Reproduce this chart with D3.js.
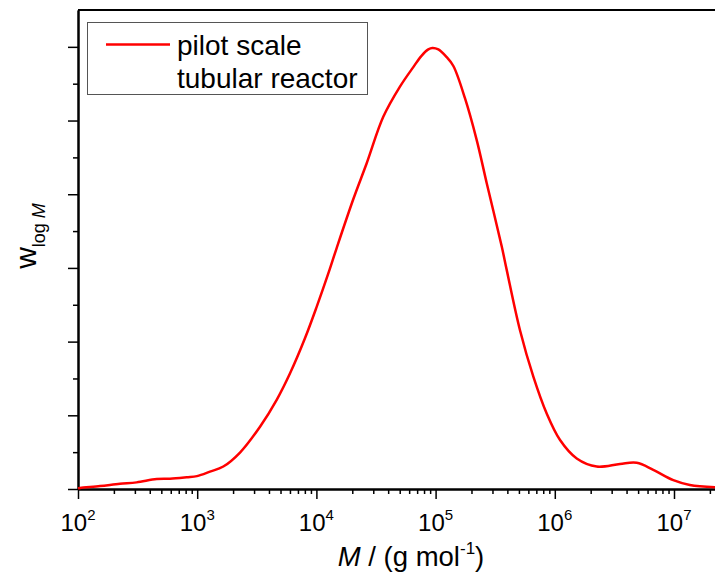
<!DOCTYPE html>
<html>
<head>
<meta charset="utf-8">
<script src="https://cdn.jsdelivr.net/npm/d3@7"></script>
<style>
    body { margin: 0; background: #fff; }
    svg { display: block; font-family: "Liberation Sans", Arial, sans-serif; }
</style>
</head>
<body>
<svg id="chart" width="715" height="573"></svg>
<script>
// molar mass distribution
var logMass = [2.000, 2.017, 2.185, 2.352, 2.492, 2.660, 2.772, 2.912, 2.998, 3.107,
    3.219, 3.359, 3.527, 3.667, 3.779, 3.904, 4.003, 4.100, 4.170, 4.310,
    4.422, 4.561, 4.701, 4.813, 4.880, 4.939, 4.973, 5.023, 5.093, 5.149,
    5.247, 5.345, 5.429, 5.555, 5.597, 5.708, 5.820, 5.932, 6.044, 6.184,
    6.352, 6.547, 6.687, 6.826, 6.994, 7.133, 7.344];
var wLogM = [0.002, 0.003, 0.008, 0.014, 0.018, 0.027, 0.028, 0.032, 0.035, 0.047,
    0.061, 0.099, 0.169, 0.242, 0.314, 0.409, 0.495, 0.585, 0.654, 0.787,
    0.884, 1.010, 1.092, 1.145, 1.175, 1.193, 1.197, 1.193, 1.172, 1.148,
    1.060, 0.947, 0.830, 0.658, 0.594, 0.431, 0.305, 0.205, 0.133, 0.083,
    0.061, 0.068, 0.071, 0.052, 0.024, 0.011, 0.005];
var legendLabels = ["pilot scale", "tubular reactor"];
var xTickExponents = ["2", "3", "4", "5", "6", "7"];
var yMajorTicks = [0, 0.2, 0.4, 0.6, 0.8, 1.0, 1.2];
var yMinorTicks = [0.1, 0.3, 0.5, 0.7, 0.9, 1.1];

(function () {
    var svg = d3.select("#chart"),
        margin = { top: 10, right: 0, bottom: 84, left: 78 },
        width = 715 - margin.left - margin.right,
        height = 573 - margin.top - margin.bottom,
        g, x, y, line, points, majors, minors, legend;

    points = logMass.map(function (lm, i) {
        return { m: Math.pow(10, lm), w: wLogM[i] };
    });

    x = d3.scaleLog()
        .domain([100, Math.pow(10, logMass[logMass.length - 1])])
        .range([0, width]);
    y = d3.scaleLinear().domain([0, 1.3]).range([height, 0]);

    g = svg.append("g")
        .attr("transform", "translate(" + margin.left + "," + margin.top + ")");

    majors = xTickExponents.map(function (e) { return Math.pow(10, +e); });
    minors = [];
    majors.forEach(function (p) {
        d3.range(2, 10).forEach(function (k) {
            if (p * k <= x.domain()[1]) minors.push(p * k);
        });
    });

    // x axis: minor ticks, then major ticks
    g.append("g")
        .attr("class", "axis")
        .attr("transform", "translate(0," + height + ")")
        .call(d3.axisBottom(x).tickValues(minors).tickSize(5).tickSizeOuter(0).tickFormat(""));
    g.append("g")
        .attr("class", "axis")
        .attr("transform", "translate(0," + height + ")")
        .call(d3.axisBottom(x).tickValues(majors).tickSize(10).tickSizeOuter(0).tickFormat(""));

    // y axis without labels
    g.append("g")
        .attr("class", "axis")
        .call(d3.axisLeft(y).tickValues(yMinorTicks).tickSize(5).tickSizeOuter(0).tickFormat(""));
    g.append("g")
        .attr("class", "axis")
        .call(d3.axisLeft(y).tickValues(yMajorTicks).tickSize(10).tickSizeOuter(0).tickFormat(""));

    // top frame line
    g.append("line")
        .attr("x1", 0).attr("x2", width)
        .attr("y1", 0).attr("y2", 0)
        .attr("stroke", "#000").attr("stroke-width", 2);

    g.selectAll(".axis path").attr("stroke", "#000").attr("stroke-width", 2);
    g.selectAll(".axis line").attr("stroke", "#000").attr("stroke-width", 1.5);

    // tick labels 10^n
    var labels = g.selectAll(".xlab")
        .data(xTickExponents)
        .enter()
        .append("text")
        .attr("class", "xlab")
        .attr("x", function (e) { return x(Math.pow(10, +e)); })
        .attr("y", height + 42)
        .attr("text-anchor", "middle")
        .attr("font-size", 24)
        .attr("fill", "#000");
    labels.append("tspan").text("10");
    labels.append("tspan")
        .attr("dy", -11)
        .attr("font-size", 15)
        .text(function (e) { return e; });

    // the curve
    line = d3.line()
        .x(function (d) { return x(d.m); })
        .y(function (d) { return y(d.w); })
        .curve(d3.curveCatmullRom.alpha(0.5));

    g.append("path")
        .datum(points)
        .attr("fill", "none")
        .attr("stroke", "#ff0000")
        .attr("stroke-width", 2.5)
        .attr("d", line);

    // x title
    var xt = svg.append("text")
        .attr("x", 411)
        .attr("y", 566)
        .attr("text-anchor", "middle")
        .attr("font-size", 27.5)
        .attr("fill", "#000");
    xt.append("tspan").attr("font-style", "italic").text("M");
    xt.append("tspan").text(" / (g mol");
    xt.append("tspan").attr("dy", -12).attr("font-size", 17).text("-1");
    xt.append("tspan").attr("dy", 12).text(")");

    // y title
    var yt = svg.append("text")
        .attr("transform", "translate(36,236) rotate(-90)")
        .attr("text-anchor", "middle")
        .attr("font-size", 30)
        .attr("fill", "#000");
    yt.append("tspan").text("w");
    yt.append("tspan").attr("dy", 9).attr("font-size", 18).text("log ");
    yt.append("tspan").attr("font-size", 18).attr("font-style", "italic").text("M");

    // legend
    legend = svg.append("g");
    legend.append("rect")
        .attr("x", 87.5).attr("y", 22.5)
        .attr("width", 280).attr("height", 72)
        .attr("fill", "#fff")
        .attr("stroke", "#555")
        .attr("stroke-width", 1);
    legend.append("line")
        .attr("x1", 106).attr("x2", 170)
        .attr("y1", 44.5).attr("y2", 44.5)
        .attr("stroke", "#ff0000")
        .attr("stroke-width", 2.5);
    legend.selectAll(".leg")
        .data(legendLabels)
        .enter()
        .append("text")
        .attr("class", "leg")
        .attr("x", 177)
        .attr("y", function (d, i) { return 55 + i * 33; })
        .attr("font-size", 28)
        .attr("fill", "#000")
        .text(function (d) { return d; });
})();
</script>
</body>
</html>
